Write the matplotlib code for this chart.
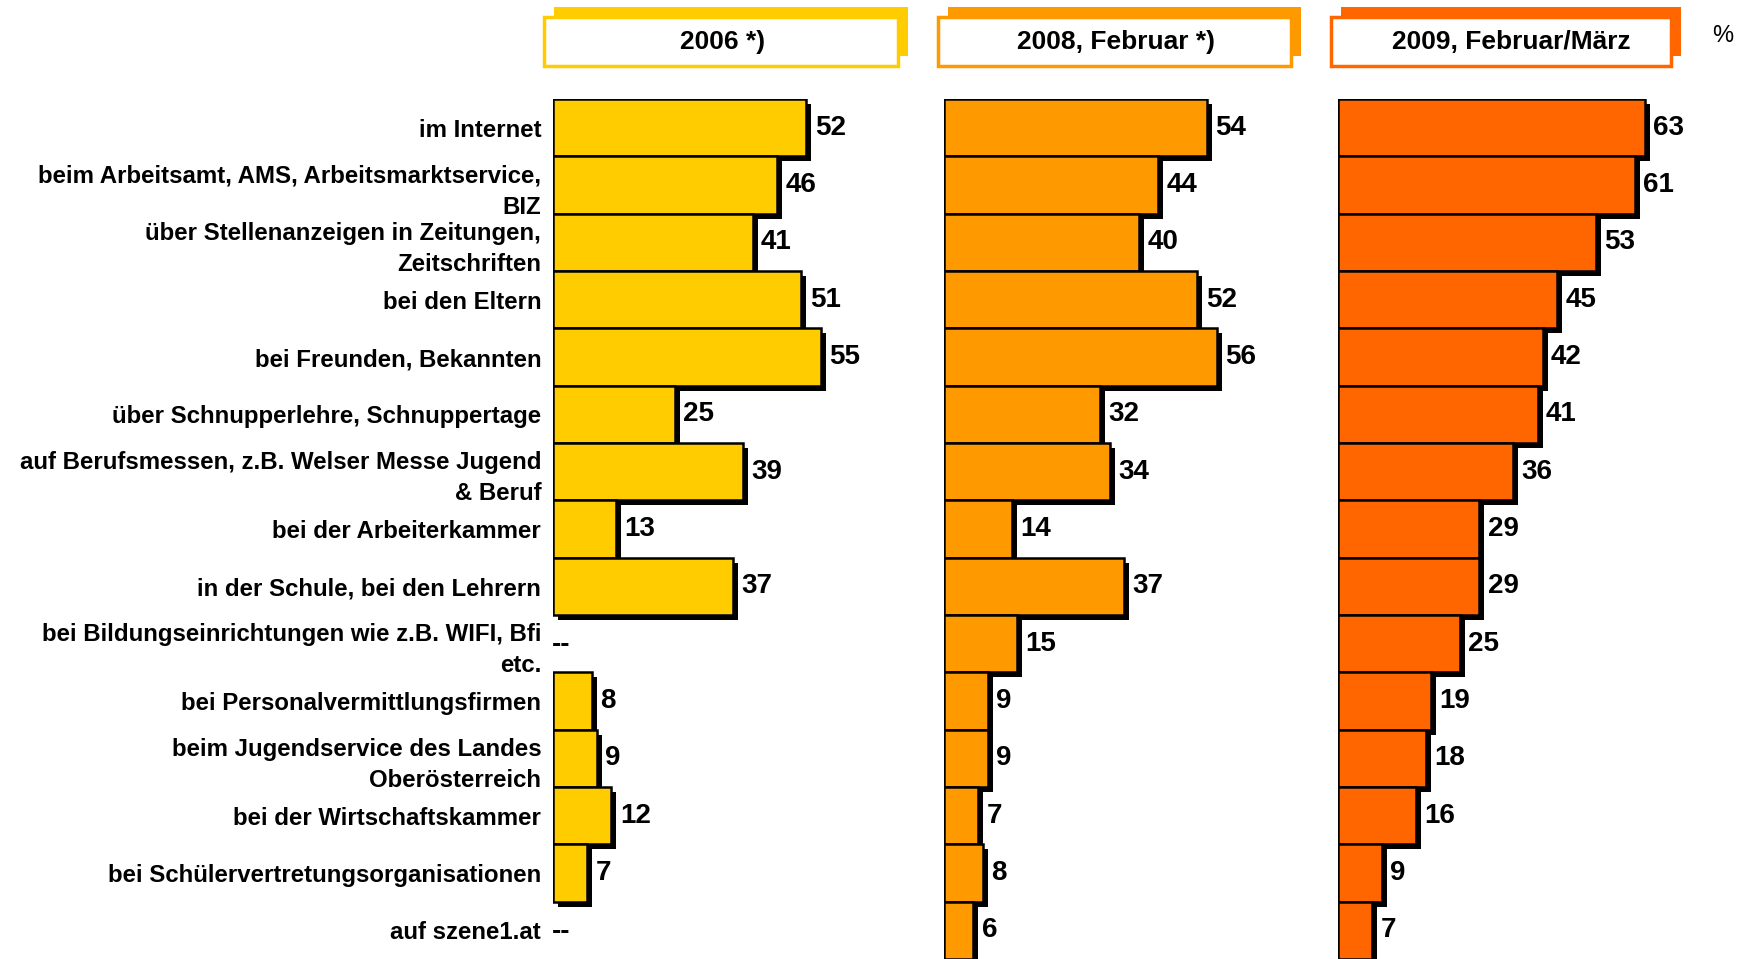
import matplotlib
matplotlib.use("Agg")
import matplotlib.pyplot as plt
import matplotlib.patheffects as pe
from matplotlib.patches import Rectangle

plt.rcParams['font.family'] = ['Liberation Sans', 'DejaVu Sans']

categories = [
    "im Internet",
    "beim Arbeitsamt, AMS, Arbeitsmarktservice,\nBIZ",
    "über Stellenanzeigen in Zeitungen,\nZeitschriften",
    "bei den Eltern",
    "bei Freunden, Bekannten",
    "über Schnupperlehre, Schnuppertage",
    "auf Berufsmessen, z.B. Welser Messe Jugend\n& Beruf",
    "bei der Arbeiterkammer",
    "in der Schule, bei den Lehrern",
    "bei Bildungseinrichtungen wie z.B. WIFI, Bfi\netc.",
    "bei Personalvermittlungsfirmen",
    "beim Jugendservice des Landes\nOberösterreich",
    "bei der Wirtschaftskammer",
    "bei Schülervertretungsorganisationen",
    "auf szene1.at",
]
werte_2006 = [52, 46, 41, 51, 55, 25, 39, 13, 37, None, 8, 9, 12, 7, None]
werte_2008 = [54, 44, 40, 52, 56, 32, 34, 14, 37, 15, 9, 9, 7, 8, 6]
werte_2009 = [63, 61, 53, 45, 42, 41, 36, 29, 29, 25, 19, 18, 16, 9, 7]
titel = ["2006 *)", "2008, Februar *)", "2009, Februar/März"]
farben = ["#FFCC00", "#FF9900", "#FF6600"]

W, H = 1744, 959
fig = plt.figure(figsize=(W / 100, H / 100), dpi=100)

# Pixel-Layout der drei Panels (links, Kopfbox links/rechts, Textmitte)
panel_left = [553, 944, 1338]
header_box = [(544, 898), (938, 1291), (1331, 1671)]
header_text_x = [723, 1116, 1511]
ax_w = 341        # 70 Einheiten
top, bottom = 99, 959

serien = [werte_2006, werte_2008, werte_2009]
shadow = [pe.SimplePatchShadow(offset=(3.6, -3.6), shadow_rgbFace='black', alpha=1.0), pe.Normal()]

for k, (werte, farbe) in enumerate(zip(serien, farben)):
    ax = fig.add_axes([panel_left[k] / W, (H - bottom) / H, ax_w / W, (bottom - top) / H])
    ax.set_xlim(0, 70)
    ax.set_ylim(len(categories) - 0.5, -0.5)
    for s in ax.spines.values():
        s.set_visible(False)
    ax.tick_params(left=False, bottom=False, labelbottom=False)
    ax.set_xticks([])
    ax.set_yticks(range(len(categories)))
    if k == 0:
        ax.set_yticklabels(categories, fontsize=17.3, fontweight='bold', linespacing=1.45)
        ax.tick_params(axis='y', pad=5)
    else:
        ax.set_yticklabels([])

    for i, v in enumerate(werte):
        if v is None:
            ax.annotate("--", (0, i), xytext=(-0.5, -1), textcoords='offset points',
                        va='center', ha='left', fontsize=20, fontweight='bold')
            continue
        bar = ax.barh(i, v, height=1.0, color=farbe, edgecolor='black', linewidth=1.8)
        for p in bar:
            p.set_path_effects(shadow)
        ax.annotate(str(v), (v, i), xytext=(6, 0), textcoords='offset points',
                    va='center', ha='left', fontsize=20, fontweight='bold')

    # Kopfbox mit versetztem Farbschatten
    x0, x1 = header_box[k]
    by0, by1 = 17, 66
    fig.patches.append(Rectangle(((x0 + 10) / W, (H - by1 + 10) / H), (x1 - x0) / W, (by1 - by0) / H,
                                 transform=fig.transFigure, facecolor=farbe, edgecolor='none', zorder=1))
    fig.patches.append(Rectangle((x0 / W, (H - by1) / H), (x1 - x0) / W, (by1 - by0) / H,
                                 transform=fig.transFigure, facecolor='white', edgecolor=farbe,
                                 linewidth=2.5, zorder=2))
    fig.text(header_text_x[k] / W, (H - 42) / H, titel[k], ha='center', va='center',
             fontsize=19, fontweight='bold', zorder=3)

fig.text(1723 / W, (H - 36) / H, "%", ha='center', va='center', fontsize=17)

fig.savefig("out.png", dpi=100, facecolor='white')
